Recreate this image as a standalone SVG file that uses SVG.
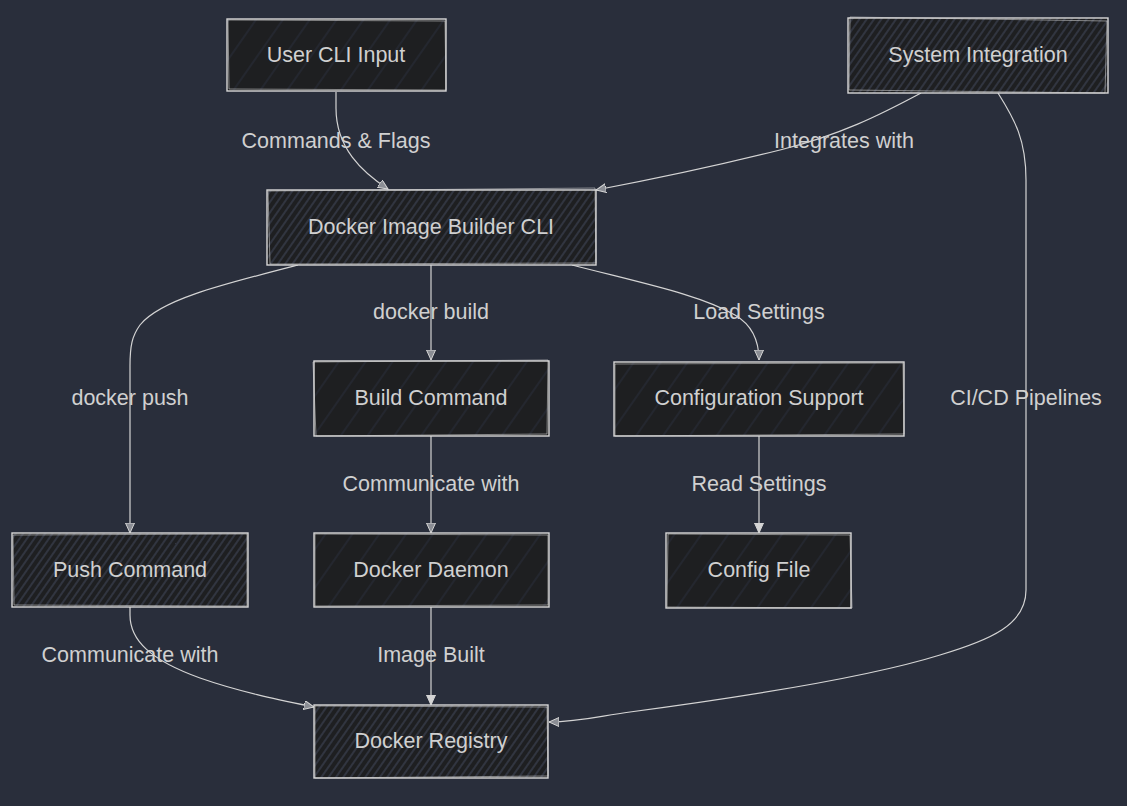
<svg xmlns="http://www.w3.org/2000/svg" width="1127" height="806" viewBox="0 0 1127 806">
<defs>
<style>
.lbl{font-family:"Liberation Sans",Arial,sans-serif;font-size:21.5px;fill:#d0d0d0;text-anchor:middle;dominant-baseline:central}
.box{stroke:#d8d8d8;stroke-width:1.4}
.box2{fill:none;stroke:#d8d8d8;stroke-width:0.8;opacity:0.7}
.edge{fill:none;stroke:#d4d4d4;stroke-width:1.2}
</style>
<pattern id="dense" patternUnits="userSpaceOnUse" width="6" height="6" patternTransform="rotate(35)">
<rect width="6" height="6" fill="#1e1f21"/>
<line x1="1" y1="0" x2="1" y2="6" stroke="#353a48" stroke-width="1.6"/>
</pattern>
<pattern id="sparse" patternUnits="userSpaceOnUse" width="22" height="22" patternTransform="rotate(35)">
<rect width="22" height="22" fill="#1e1f21"/>
<line x1="1" y1="0" x2="1" y2="22" stroke="#2a2e3c" stroke-width="1"/>
</pattern>
<marker id="ah" markerUnits="userSpaceOnUse" markerWidth="12" markerHeight="10" refX="10" refY="4.5" orient="auto">
<path d="M0,0 L10,4.5 L0,9 Z" fill="#8a8d94" stroke="#d4d4d4" stroke-width="1"/>
</marker>
<marker id="ahf" markerUnits="userSpaceOnUse" markerWidth="12" markerHeight="10" refX="10" refY="4.5" orient="auto">
<path d="M0,0 L10,4.5 L0,9 Z" fill="#d4d4d4" stroke="#d4d4d4" stroke-width="1"/>
</marker>
</defs>
<rect width="1127" height="806" fill="#292e3b"/>

<g id="connectors">
<path class="edge" marker-end="url(#ah)" d="M336,92 L336,108 C336,148 362,172 388,189"/>
<path class="edge" marker-end="url(#ah)" d="M921,93 C880,115 840,135 780,150 C720,165 660,178 596,190"/>
<path class="edge" marker-end="url(#ah)" d="M431,265 L431,360"/>
<path class="edge" marker-end="url(#ah)" d="M572,265 C650,285 700,295 735,315 C752,325 759,340 759,360"/>
<path class="edge" marker-end="url(#ah)" d="M298,265 C220,285 160,300 140,325 C132,336 130,346 130,366 L130,533"/>
<path class="edge" marker-end="url(#ah)" d="M998,93 C1015,120 1026,140 1026,180 L1026,590 C1026,625 990,640 940,655 C860,680 720,700 630,712 C600,716 580,722 549,722"/>
<path class="edge" marker-end="url(#ah)" d="M431,436 L431,533"/>
<path class="edge" marker-end="url(#ahf)" d="M759,436 L759,533"/>
<path class="edge" marker-end="url(#ah)" d="M130,607 L130,615 C130,640 150,660 200,678 C240,692 280,700 314,707"/>
<path class="edge" marker-end="url(#ahf)" d="M431,607 L431,705"/>
</g>

<g id="edge-labels">
<text class="lbl" x="336" y="141">Commands &amp; Flags</text>
<text class="lbl" x="844" y="141">Integrates with</text>
<text class="lbl" x="431" y="312">docker build</text>
<text class="lbl" x="759" y="312">Load Settings</text>
<text class="lbl" x="130" y="398">docker push</text>
<text class="lbl" x="1026" y="398">CI/CD Pipelines</text>
<text class="lbl" x="431" y="484">Communicate with</text>
<text class="lbl" x="759" y="484">Read Settings</text>
<text class="lbl" x="130" y="655">Communicate with</text>
<text class="lbl" x="431" y="655">Image Built</text>
</g>

<g id="user-cli-input">
<rect class="box" x="227" y="19" width="219" height="72" fill="url(#sparse)"/>
<path class="box2" d="M228,20 L445,21 L446,90 L229,89 Z"/>
<text class="lbl" x="336" y="55">User CLI Input</text>
</g>
<g id="system-integration">
<rect class="box" x="848" y="18" width="260" height="75" fill="url(#dense)"/>
<path class="box2" d="M850,17 L1107,21 L1105,93 L849,90 Z"/>
<text class="lbl" x="978" y="55">System Integration</text>
</g>
<g id="docker-image-builder-cli">
<rect class="box" x="267" y="190" width="329" height="75" fill="url(#dense)"/>
<path class="box2" d="M268,191 L595,188 L596,263 L270,264 Z"/>
<text class="lbl" x="431" y="227">Docker Image Builder CLI</text>
</g>
<g id="build-command">
<rect class="box" x="314" y="361" width="235" height="75" fill="url(#sparse)"/>
<path class="box2" d="M313,362 L548,360 L547,434 L316,436 Z"/>
<text class="lbl" x="431" y="398">Build Command</text>
</g>
<g id="configuration-support">
<rect class="box" x="614" y="362" width="290" height="74" fill="url(#sparse)"/>
<path class="box2" d="M615,364 L903,363 L904,434 L615,436 Z"/>
<text class="lbl" x="759" y="398">Configuration Support</text>
</g>
<g id="push-command">
<rect class="box" x="12" y="533" width="236" height="74" fill="url(#dense)"/>
<path class="box2" d="M13,535 L247,534 L247,606 L14,605 Z"/>
<text class="lbl" x="130" y="570">Push Command</text>
</g>
<g id="docker-daemon">
<rect class="box" x="314" y="533" width="235" height="74" fill="url(#sparse)"/>
<path class="box2" d="M315,534 L548,535 L548,605 L315,606 Z"/>
<text class="lbl" x="431" y="570">Docker Daemon</text>
</g>
<g id="config-file">
<rect class="box" x="666" y="533" width="185" height="75" fill="url(#sparse)"/>
<path class="box2" d="M668,534 L850,535 L852,608 L667,607 Z"/>
<text class="lbl" x="759" y="570">Config File</text>
</g>
<g id="docker-registry">
<rect class="box" x="314" y="705" width="234" height="73" fill="url(#dense)"/>
<path class="box2" d="M315,706 L547,707 L548,776 L315,778 Z"/>
<text class="lbl" x="431" y="741">Docker Registry</text>
</g>
</svg>
